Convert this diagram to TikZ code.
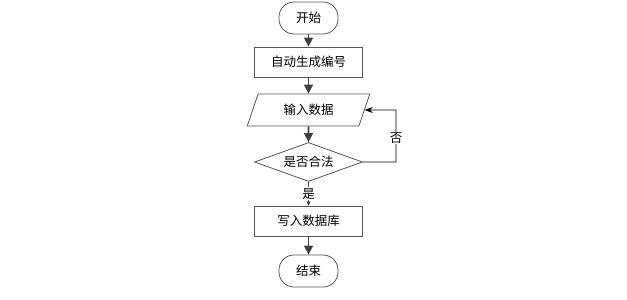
\documentclass[tikz,border=0pt]{standalone}
\usepackage{fontspec}
\setmainfont{Noto Sans CJK SC}
\usetikzlibrary{shapes.geometric,arrows.meta}
\definecolor{edge}{HTML}{555555}
\definecolor{arr}{HTML}{404040}
\tikzset{
  base/.style={draw=edge, line width=0.8pt, font=\fontsize{12.5}{14}\selectfont, inner sep=0pt},
  term/.style={base, rounded corners=15pt, minimum width=59pt, minimum height=32pt},
  proc/.style={base, rectangle, minimum width=108pt, minimum height=30pt},
  io/.style={base, trapezium, trapezium left angle=65, trapezium right angle=115, minimum width=123pt, minimum height=32pt, trapezium stretches=true},
  dec/.style={base, diamond, aspect=2.77, minimum width=108pt, minimum height=39pt},
  flow/.style={draw=arr, line width=1.6pt, -{Triangle[width=9pt,length=9pt]}},
  thin/.style={draw=black, line width=0.8pt, -{Stealth[width=6pt,length=8pt]}}
}
\begin{document}
\begin{tikzpicture}[x=1pt,y=-1pt]
\useasboundingbox (0,0) rectangle (627,300);
\node[term] (s) at (308.5,18) {开始};
\node[proc] (a) at (308.5,62) {自动生成编号};
\node[io] (i) at (308.5,110) {输入数据};
\node[dec] (d) at (308.5,162) {是否合法};
\node[proc] (w) at (308.5,221) {写入数据库};
\node[term] (e) at (308.5,271) {结束};
\draw[flow] (s) -- (a);
\draw[flow] (a) -- (i);
\draw[flow] (i) -- (d);
\draw[draw=arr, line width=0.6pt, -{Triangle[width=4pt,length=4pt]}] (d) -- node[fill=white, inner sep=1pt, font=\fontsize{12.5}{14}\selectfont] {是} (w);
\draw[flow] (w) -- (e);
\coordinate (c1) at (396,162);
\coordinate (c2) at (396,110);
\draw[thin] (d.east) -- (c1) -- node[fill=white, inner sep=1pt, pos=0.46, font=\fontsize{12.5}{14}\selectfont] {否} (c2) -- (i.east);
\end{tikzpicture}
\end{document}
